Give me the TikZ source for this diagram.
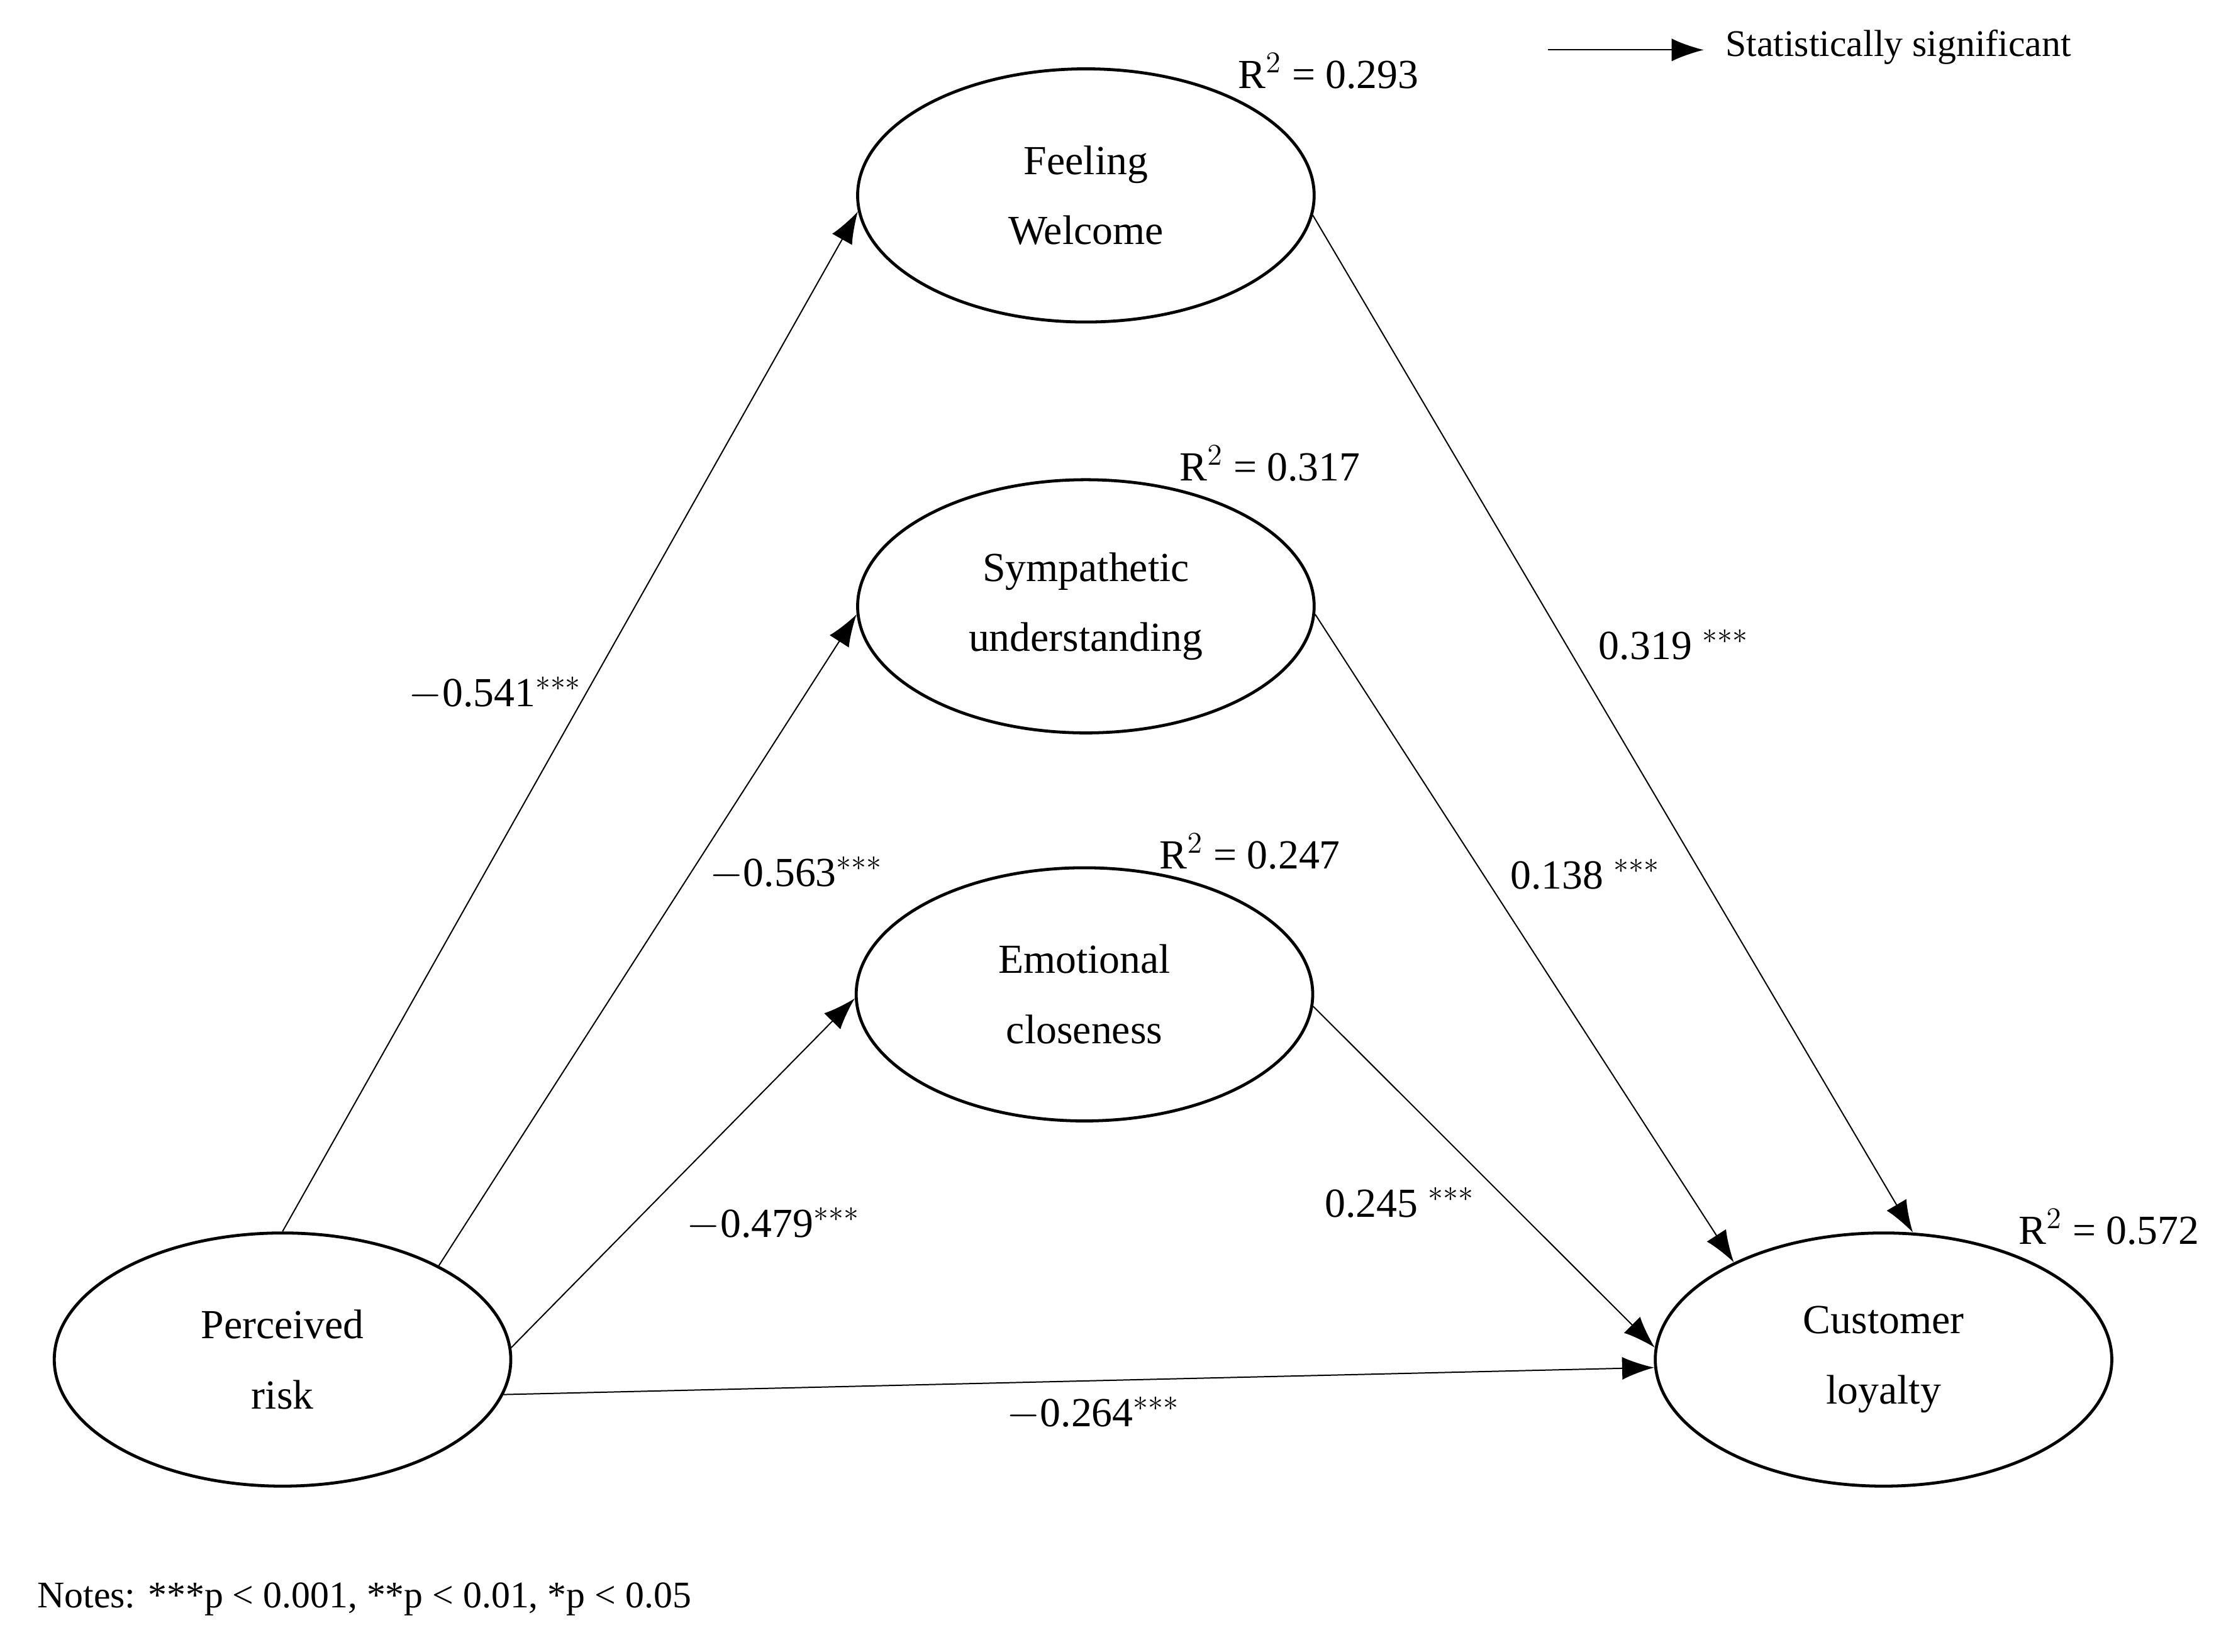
\documentclass[tikz,border=0pt]{standalone}
\usepackage{fontspec}
\setmainfont{Liberation Serif}
\usetikzlibrary{shapes.geometric,arrows.meta}
\tikzset{
  construct/.style={ellipse, draw, line width=1.2pt, minimum width=6.4cm, minimum height=3.55cm, align=center, font=\fontsize{16.5}{28}\selectfont},
  path/.style={-{Latex[length=0.45cm,width=0.32cm]}, line width=0.5pt},
  coef/.style={font=\fontsize{16.5}{19}\selectfont},
  small/.style={font=\fontsize{15}{18}\selectfont}
}
\begin{document}
\begin{tikzpicture}[x=0.02cm,y=-0.02cm]
  \useasboundingbox (0,0) rectangle (1560,1158);

  % Constructs
  \node[construct] (fw) at (761,137) {Feeling\\Welcome};
  \node[construct] (su) at (761,425) {Sympathetic\\understanding};
  \node[construct] (ec) at (760,697) {Emotional\\closeness};
  \node[construct] (pr) at (198,953) {Perceived\\risk};
  \node[construct] (cl) at (1320,953) {Customer\\loyalty};

  % Paths from perceived risk
  \draw[path] (pr.north) -- (fw.184);
  \draw[path] (pr.31) -- (su.182);
  \draw[path] (pr.3) -- (ec.181);
  \draw[path] (pr.-9) -- (cl.182);

  % Paths to customer loyalty
  \draw[path] (fw.-5) -- (cl.77);
  \draw[path] (su.-2) -- (cl.147);
  \draw[path] (ec.-3) -- (cl.177);

  % Coefficients
  \node[coef] (c1) at (347,486) {$-$0.541$^{***}$};
  \node[coef] (c2) at (558,612) {$-$0.563$^{***}$};
  \node[coef] (c3) at (542,858) {$-$0.479$^{***}$};
  \node[coef] (c4) at (766,991) {$-$0.264$^{***}$};
  \node[coef] (c5) at (1173,452) {0.319 $^{***}$};
  \node[coef] (c6) at (1111,613) {0.138 $^{***}$};
  \node[coef] (c7) at (981,843) {0.245 $^{***}$};

  % R squared
  \node[coef] (r1) at (931,50) {R$^2$ = 0.293};
  \node[coef] (r2) at (890,325) {R$^2$ = 0.317};
  \node[coef] (r3) at (876,597) {R$^2$ = 0.247};
  \node[coef] (r4) at (1478,860) {R$^2$ = 0.572};

  % Legend and notes
  \coordinate (lgs) at (1085,35);
  \coordinate (lge) at (1194,35);
  \draw[path] (lgs) -- (lge);
  \node[small, anchor=west] (lgt) at (1203,33) {Statistically significant};
  \node[small, anchor=west] (notes) at (20,1121) {Notes: ***p < 0.001, **p < 0.01, *p < 0.05};
\end{tikzpicture}
\end{document}
